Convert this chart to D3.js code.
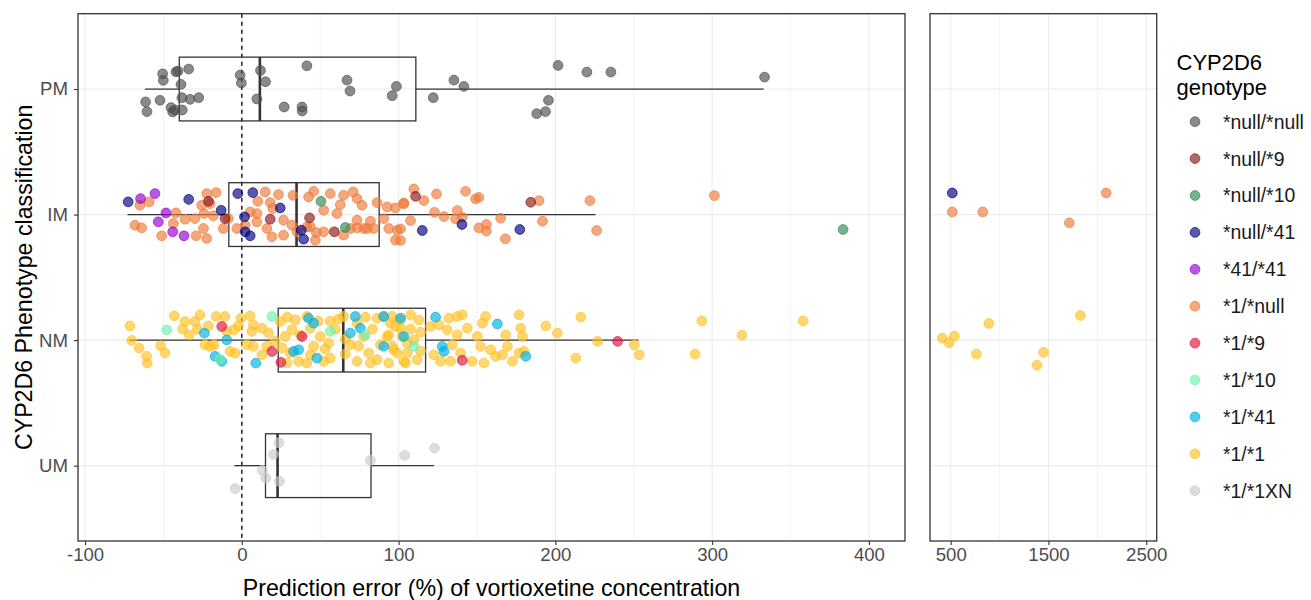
<!DOCTYPE html>
<html>
<head>
<meta charset="utf-8">
<script src="https://cdn.jsdelivr.net/npm/d3@7"></script>
<style>
  body { margin: 0; background: #fff; }
  text { font-family: "Liberation Sans", Arial, sans-serif; }
</style>
</head>
<body>
<div id="chart"></div>
<script>
// categories
var phenotypes = ["PM", "IM", "NM", "UM"];
var genotypes = ["*null/*null", "*null/*9", "*null/*10", "*null/*41", "*41/*41",
                 "*1/*null", "*1/*9", "*1/*10", "*1/*41", "*1/*1", "*1/*1XN"];
var genoColors = ["#4d4d4d", "#8b1a1a", "#2e8b57", "#000080", "#9400d3",
                  "#f07a3a", "#dc143c", "#70f0b0", "#00b0e0", "#ffc125", "#cccccc"];

// box statistics per phenotype (prediction error %)
var boxLower  = [-61.8, -72.9, -71.8, -4.7];
var boxQ1     = [-39.9, -8.3, 23.2, 15.1];
var boxMedian = [11.5, 34.9, 64.7, 22.8];
var boxQ3     = [111, 87.6, 117.2, 82.4];
var boxUpper  = [332.8, 225.6, 253, 122.5];

// ticks
var leftTicks = [-100, 0, 100, 200, 300, 400];
var leftMinor = [-50, 50, 150, 250, 350];
var rightTicks = [500, 1500, 2500];
var rightMinor = [1000, 2000];

// points: [prediction error %, vertical jitter in category units]
var pmNullNull = [[-50.5,0.121],[-50.1,0.069],[-42.0,0.137],[-40.7,0.143],[-33.9,0.159],[-38.8,0.037],[-61.4,-0.103],[-60.5,-0.18],[-52.2,-0.09],[-45.2,-0.148],[-44.1,-0.183],[-42.6,-0.167],[-38.0,-0.167],[-38.2,-0.069],[-33.0,-0.082],[-27.5,-0.069],[-1.1,0.111],[-0.3,0.048],[11.9,0.148],[15.1,0.058],[9.6,-0.079],[41.5,0.185],[27.0,-0.143],[38.4,-0.143],[38.5,-0.175],[67.1,0.071],[69.0,-0.016],[98.6,0.021],[95.9,-0.053],[122.1,-0.069],[135.3,0.071],[141.6,0.021],[201.7,0.188],[220.1,0.135],[235.4,0.135],[333.4,0.095],[195.6,-0.09],[193.7,-0.18],[188.1,-0.196]];

var im1Null = [[-59.1,0.101],[-65.0,0.074],[-22.4,0.167],[-16.4,0.175],[-20.3,0.087],[-25.6,0.074],[14.9,0.180],[23.4,0.159],[32.6,0.153],[10.2,0.106],[18.1,0.095],[19.8,0.048],[45.8,0.185],[42.6,0.140],[56.4,0.167],[64.9,0.153],[71.0,0.180],[73.5,0.127],[76.7,0.074],[62.8,0.079],[52.2,0.034],[60.7,0.008],[86.3,0.095],[103.3,0.093],[98.0,0.053],[92.7,0.061],
  [-42.0,0.013],[-36.2,-0.037],[-29.9,-0.032],[-43.7,-0.071],[-24.1,0.008],[-18.2,-0.010],[-8.6,-0.032],[5.3,0.021],[9.6,0.008],[9.6,-0.058],[26.6,-0.045],[32.0,-0.085],[35.2,-0.137],[43.7,-0.098],[47.5,-0.143],[73.5,-0.045],[82.0,-0.053],[77.8,-0.111],[69.3,-0.111],[84.1,-0.111],[93.7,-0.111],[99.1,-0.125],[90.5,-0.032],
  [-68.2,-0.085],[-63.9,-0.106],[-51.1,-0.169],[-29.2,-0.169],[-22.4,-0.190],[-24.5,-0.111],[-11.8,-0.111],[-3.2,-0.111],[16.0,-0.111],[19.2,-0.177],[26.6,-0.164],[46.9,-0.204],[52.2,-0.137],[64.9,-0.164],[73.5,-0.106],[79.9,-0.111],[98.0,-0.204],[41.5,-0.098],[2.1,-0.085],
  [109.7,0.204],[103.3,0.085],[116.1,0.111],[124.2,0.164],[142.7,0.185],[149.1,0.125],[151.2,0.137],[189.6,0.111],[222.0,0.111],[301.4,0.151],[122.9,0.018],[128.9,-0.016],[137.4,0.032],[136.3,-0.034],[140.6,-0.021],[107.6,-0.048],[101.2,-0.114],[151.2,-0.106],[156.0,-0.079],[156.0,-0.132],[165.1,-0.029],[168.1,-0.193],[191.8,-0.053],[226.3,-0.127],[101.2,-0.206],
  [516,0.021],[828,0.021],[1713,-0.066],[2090,0.172]];
var imNull9 = [[-21.3,0.106],[18.1,-0.037],[43.2,-0.026],[59.0,-0.137],[110.8,0.145],[184.3,0.098],[-10.7,-0.032]];
var imNull10 = [[50.5,0.106],[66.0,-0.103],[383.5,-0.119]];
var imNull41 = [[-72.5,0.101],[-33.9,0.121],[-2.6,0.167],[7.0,0.175],[24.5,0.053],[1.7,-0.018],[2.1,-0.137],[5.3,-0.169],[-13.2,0.034],[37.9,-0.125],[39.4,-0.196],[115.1,-0.127],[140.4,-0.079],[177.3,-0.119],[516,0.172]];
var im41_41 = [[-64.6,0.127],[-55.4,0.167],[-48.4,0.013],[-53.3,-0.058],[-44.1,-0.137],[-36.9,-0.169]];

var nm1_1 = [[-71.4,0.113],[-70.3,-0.002],[-65.5,-0.063],[-60.7,-0.129],[-60.3,-0.183],[-51.8,-0.045],[-49.0,-0.103],[-43.1,0.193],[-36.2,0.148],[-29.9,0.148],[-37.7,0.087],[-33.5,0.042],[-28.4,0.087],[-21.3,0.113],[-16.4,0.188],[-10.7,0.188],[-20.3,-0.050],[-23.5,-0.037],[-17.7,-0.037],[-7.5,-0.090],[-4.3,-0.103],[-4.9,0.082],[-2.2,0.113],[-0.6,0.175],[5.3,0.193],[7.4,0.121],[6.4,0.069],[12.8,0.095],[17.0,0.056],[3.2,-0.037],[7.4,-0.050],[12.8,-0.117],[16.0,-0.050],[21.3,-0.010],[24.5,0.148],[27.7,0.029],[32.0,0.082],[30.9,-0.103],[36.2,-0.169],[34.1,0.161],[43.7,0.095],[45.8,-0.050],[50.0,0.029],[55.4,-0.024],[56.4,-0.143],[52.2,-0.169],[41.5,-0.183],[28.8,-0.183],[69.2,-0.037],[73.5,0.135],[77.7,0.029],[80.9,-0.103],[73.5,-0.169],[86.3,0.175],[88.4,-0.037],[86.3,-0.156],[93.7,0.042],[95.9,0.188],[99.1,-0.103],[101.2,0.095],[105.5,-0.024],[103.3,-0.169],[41.5,0.188],[64.9,0.188],[-9.6,0.069],[-26.7,0.201],
  [90.5,0.188],[94.8,0.135],[101.2,0.161],[107.6,0.201],[112.9,0.161],[92.7,0.029],[102.3,0.029],[109.7,0.002],[96.9,-0.077],[105.5,-0.103],[93.7,-0.183],[104.4,-0.183],[111.9,-0.156],[120.4,0.109],[125.7,0.121],[132.1,0.175],[137.4,0.188],[140.6,0.201],[131.0,0.082],[137.4,0.042],[143.8,0.095],[134.2,-0.037],[122.5,-0.117],[126.8,-0.169],[133.1,-0.169],[147.0,-0.169],[139.5,-0.103],[152.3,-0.050],[153.4,0.135],[155.5,0.188],[150.2,0.029],[158.7,-0.077],[161.9,-0.129],[166.2,-0.117],[169.4,-0.050],[168.3,0.042],[176.8,0.201],[177.9,0.095],[179.0,0.029],[176.8,-0.103],[172.6,-0.169],[180.0,-0.090],[193.9,0.113],[201.3,0.056],[216.2,0.183],[213.0,-0.143],[226.9,-0.010],[250.3,-0.037],[253.5,-0.117],[154.4,-0.183],[293.4,0.153],[358.0,0.153],[319.0,0.040],[289.1,-0.111],
  [29.0,0.183],[37.3,0.040],[48.8,0.151],[59.6,0.087],[66.0,-0.111],[61.6,0.167],[83.3,0.087],[98.0,0.111],[107.6,0.087],[78.8,0.183],[66.0,0.008],[53.2,-0.071],[43.7,-0.119],[25.8,-0.063],[82.0,-0.183],[96.1,-0.048],[114.0,-0.087],[114.0,0.063],[74.4,-0.048],[56.4,0.151],
  [414,0.016],[537,0.032],[483,-0.021],[890,0.133],[763,-0.111],[1450,-0.098],[1382,-0.200],[1826,0.196]];
var nm1_41 = [[-23.9,0.056],[-9.6,0.002],[-17.1,-0.129],[-12.8,-0.169],[8.9,-0.183],[42.6,0.175],[45.8,0.135],[33.0,-0.090],[36.2,-0.077],[47.9,-0.143],[69.2,0.056],[72.4,0.188],[75.6,0.095],[90.5,0.188],[101.2,0.175],[103.3,0.029],[123.6,0.183],[163.0,0.129],[127.8,-0.050],[128.9,-0.090],[181.1,-0.129],[90.5,-0.050]];
var nm1_10 = [[-47.9,0.082],[19.2,0.188],[56.4,0.069],[78.8,0.042],[109.7,-0.050],[-13.9,-0.151]];
var nm1_9 = [[-12.8,0.109],[24.9,-0.177],[38.4,0.029],[19.2,-0.090],[140.6,-0.161],[239.7,-0.010]];

var um1_1XN = [[23.7,0.183],[20.2,0.090],[82.0,0.042],[103.9,0.082],[122.9,0.140],[13.0,-0.037],[15.3,-0.098],[24.0,-0.125],[-4.3,-0.183]];

// draw order of the groups
var groups = [
  {pheno: "PM", geno: "*null/*null", pts: pmNullNull},
  {pheno: "IM", geno: "*1/*null", pts: im1Null},
  {pheno: "IM", geno: "*null/*9", pts: imNull9},
  {pheno: "IM", geno: "*null/*10", pts: imNull10},
  {pheno: "IM", geno: "*null/*41", pts: imNull41},
  {pheno: "IM", geno: "*41/*41", pts: im41_41},
  {pheno: "NM", geno: "*1/*1", pts: nm1_1},
  {pheno: "NM", geno: "*1/*41", pts: nm1_41},
  {pheno: "NM", geno: "*1/*10", pts: nm1_10},
  {pheno: "NM", geno: "*1/*9", pts: nm1_9},
  {pheno: "UM", geno: "*1/*1XN", pts: um1_1XN}
];

var W = 1311, H = 600;
var PANEL_TOP = 13.7, PANEL_BOTTOM = 541;
var LEFT_X = [78, 905], RIGHT_X = [930, 1156.7];
var SPLIT = 400;   // values above this go to the right-hand panel
var PT_R = 4.9;

var svg = d3.select("#chart").append("svg")
    .attr("width", W)
    .attr("height", H);

svg.append("rect").attr("width", W).attr("height", H).attr("fill", "#fff");

var xLeft = d3.scaleLinear().domain([-104.5, 423]).range(LEFT_X);
var xRight = d3.scaleLinear().domain([288, 2607]).range(RIGHT_X);
var y = d3.scalePoint().domain(phenotypes).range([PANEL_TOP, PANEL_BOTTOM]).padding(0.6);
var step = y.step();
var color = d3.scaleOrdinal().domain(genotypes).range(genoColors);

function drawPanel(x, ticks, minor, range) {
    var g = svg.append("g");

    g.selectAll(".minor").data(minor).enter().append("line")
	.attr("x1", function(d) { return x(d); })
	.attr("x2", function(d) { return x(d); })
	.attr("y1", PANEL_TOP).attr("y2", PANEL_BOTTOM)
	.attr("stroke", "#ebebeb").attr("stroke-width", 0.6);

    g.selectAll(".major").data(ticks).enter().append("line")
	.attr("x1", function(d) { return x(d); })
	.attr("x2", function(d) { return x(d); })
	.attr("y1", PANEL_TOP).attr("y2", PANEL_BOTTOM)
	.attr("stroke", "#ebebeb").attr("stroke-width", 1.1);

    g.selectAll(".hgrid").data(phenotypes).enter().append("line")
	.attr("x1", range[0]).attr("x2", range[1])
	.attr("y1", function(d) { return y(d); })
	.attr("y2", function(d) { return y(d); })
	.attr("stroke", "#ebebeb").attr("stroke-width", 1.1);

    // x axis
    var ax = svg.append("g")
	    .attr("transform", "translate(0," + PANEL_BOTTOM + ")")
	    .call(d3.axisBottom(x).tickValues(ticks).tickSize(4).tickPadding(3).tickFormat(d3.format("d")));
    ax.select(".domain").remove();
    ax.selectAll("line").attr("stroke", "#333").attr("stroke-width", 1.1);
    ax.selectAll("text")
	.attr("fill", "#4d4d4d")
	.attr("font-size", "18.6px")
	.attr("font-family", "Liberation Sans, Arial, sans-serif")
	.text(function(d) { return d < 0 ? "-" + Math.abs(d) : d; });

    return g;
}

drawPanel(xLeft, leftTicks, leftMinor, LEFT_X);
drawPanel(xRight, rightTicks, rightMinor, RIGHT_X);

// zero reference line
svg.append("line")
    .attr("x1", xLeft(0)).attr("x2", xLeft(0))
    .attr("y1", PANEL_TOP).attr("y2", PANEL_BOTTOM)
    .attr("stroke", "#000").attr("stroke-width", 1.3)
    .attr("stroke-dasharray", "4,4");

// box plots (left panel only)
var boxG = svg.append("g");
var boxH = step * 0.254;
phenotypes.forEach(function(p, i) {
    var cy = y(p);
    boxG.append("line")
	.attr("x1", xLeft(boxLower[i])).attr("x2", xLeft(boxQ1[i]))
	.attr("y1", cy).attr("y2", cy)
	.attr("stroke", "#333").attr("stroke-width", 1.3);
    boxG.append("line")
	.attr("x1", xLeft(boxQ3[i])).attr("x2", xLeft(boxUpper[i]))
	.attr("y1", cy).attr("y2", cy)
	.attr("stroke", "#333").attr("stroke-width", 1.3);
    boxG.append("rect")
	.attr("x", xLeft(boxQ1[i])).attr("y", cy - boxH)
	.attr("width", xLeft(boxQ3[i]) - xLeft(boxQ1[i]))
	.attr("height", boxH * 2)
	.attr("fill", "none").attr("stroke", "#333").attr("stroke-width", 1.3);
    boxG.append("line")
	.attr("x1", xLeft(boxMedian[i])).attr("x2", xLeft(boxMedian[i]))
	.attr("y1", cy - boxH).attr("y2", cy + boxH)
	.attr("stroke", "#333").attr("stroke-width", 2.6);
});

// jittered points
var ptG = svg.append("g");
groups.forEach(function(gr) {
    ptG.selectAll(null).data(gr.pts).enter().append("circle")
	.attr("cx", function(d) { return d[0] > SPLIT ? xRight(d[0]) : xLeft(d[0]); })
	.attr("cy", function(d) { return y(gr.pheno) - d[1] * step; })
	.attr("r", PT_R)
	.attr("fill", color(gr.geno)).attr("fill-opacity", 0.66)
	.attr("stroke", color(gr.geno)).attr("stroke-opacity", 0.66)
	.attr("stroke-width", 1);
});

// panel borders
[LEFT_X, RIGHT_X].forEach(function(r) {
    svg.append("rect")
	.attr("x", r[0]).attr("y", PANEL_TOP)
	.attr("width", r[1] - r[0]).attr("height", PANEL_BOTTOM - PANEL_TOP)
	.attr("fill", "none").attr("stroke", "#333").attr("stroke-width", 1.3);
});

// y axis
var ay = svg.append("g")
    .attr("transform", "translate(" + LEFT_X[0] + ",0)")
    .call(d3.axisLeft(y).tickSize(4).tickPadding(6));
ay.select(".domain").remove();
ay.selectAll("line").attr("stroke", "#333").attr("stroke-width", 1.1);
ay.selectAll("text")
    .attr("fill", "#4d4d4d")
    .attr("font-size", "18.6px")
    .attr("font-family", "Liberation Sans, Arial, sans-serif");

// axis titles
svg.append("text")
    .attr("x", (LEFT_X[0] + LEFT_X[1]) / 2).attr("y", 596)
    .attr("text-anchor", "middle")
    .attr("font-size", "23.2px")
    .attr("fill", "#000")
    .text("Prediction error (%) of vortioxetine concentration");

svg.append("text")
    .attr("transform", "translate(32," + (PANEL_TOP + PANEL_BOTTOM) / 2 + ") rotate(-90)")
    .attr("text-anchor", "middle")
    .attr("font-size", "23.2px")
    .attr("fill", "#000")
    .text("CYP2D6 Phenotype classification");

// legend
var leg = svg.append("g");
leg.append("text").attr("x", 1176.5).attr("y", 69.5)
    .attr("font-size", "22px").attr("fill", "#000").text("CYP2D6");
leg.append("text").attr("x", 1176.5).attr("y", 94.5)
    .attr("font-size", "22px").attr("fill", "#000").text("genotype");

var item = leg.selectAll(".item").data(genotypes).enter().append("g")
    .attr("transform", function(d, i) { return "translate(0," + (121.7 + i * 36.9) + ")"; });
item.append("circle")
    .attr("cx", 1195).attr("cy", 0).attr("r", PT_R)
    .attr("fill", function(d) { return color(d); }).attr("fill-opacity", 0.66)
    .attr("stroke", function(d) { return color(d); }).attr("stroke-opacity", 0.66)
    .attr("stroke-width", 1);
item.append("text")
    .attr("x", 1223).attr("y", 0).attr("dy", "0.36em")
    .attr("font-size", "19.4px").attr("fill", "#1a1a1a")
    .text(function(d) { return d; });
</script>
</body>
</html>
